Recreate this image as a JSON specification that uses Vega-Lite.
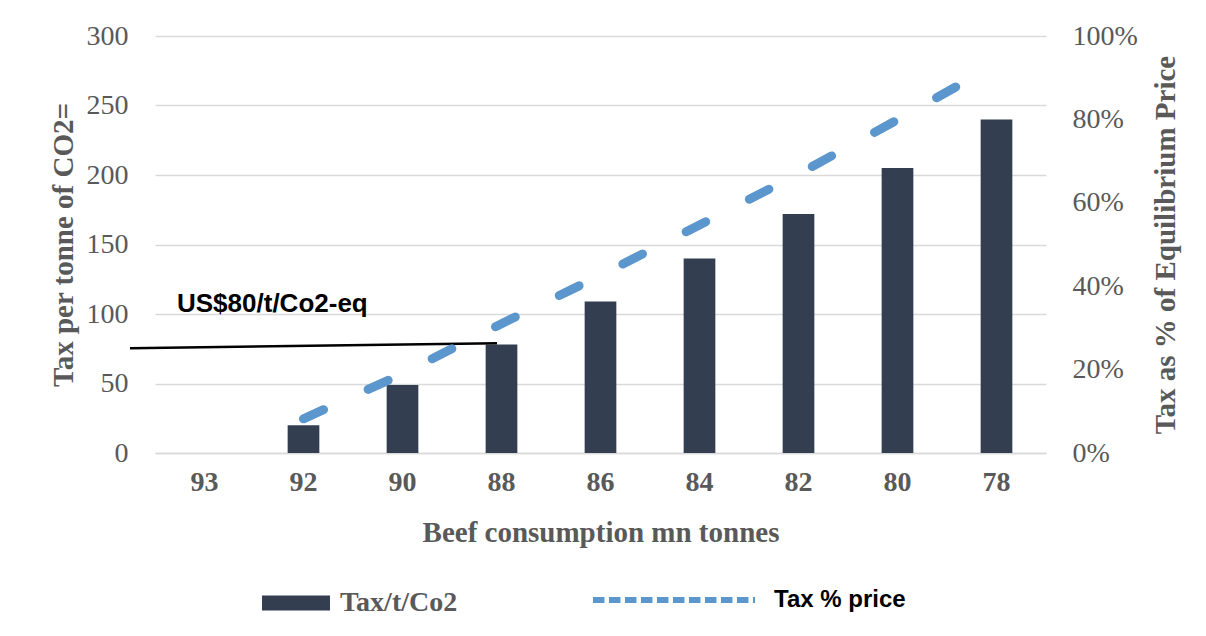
{
  "$schema": "https://vega.github.io/schema/vega-lite/v6.json",
  "width": 891,
  "height": 417,
  "autosize": {"type": "none"},
  "padding": {"left": 155, "top": 36, "right": 160, "bottom": 183},
  "background": "white",
  "config": {
    "view": {"stroke": null},
    "legend": {"padding": 0, "titlePadding": 0}
  },
  "datasets": {
    "tax": [
      {"beef": "93", "tax": 0},
      {"beef": "92", "tax": 20},
      {"beef": "90", "tax": 49},
      {"beef": "88", "tax": 78},
      {"beef": "86", "tax": 109},
      {"beef": "84", "tax": 140},
      {"beef": "82", "tax": 172},
      {"beef": "80", "tax": 205},
      {"beef": "78", "tax": 240}
    ],
    "share": [
      {"beef": "92", "pct": 0.082},
      {"beef": "90", "pct": 0.19},
      {"beef": "88", "pct": 0.31},
      {"beef": "86", "pct": 0.426},
      {"beef": "84", "pct": 0.547},
      {"beef": "82", "pct": 0.669},
      {"beef": "80", "pct": 0.799},
      {"beef": "78", "pct": 0.933}
    ],
    "note": [
      {"label": "US$80/t/Co2-eq", "from": "93", "to": "88", "start": 75.3, "end": 79, "level": 100}
    ]
  },
  "layer": [
    {
      "layer": [
        {
          "data": {"name": "tax"},
          "mark": {"type": "bar", "color": "#333F50"},
          "encoding": {
            "x": {
              "field": "beef", "type": "ordinal", "sort": null,
              "scale": {"domain": ["93", "92", "90", "88", "86", "84", "82", "80", "78"], "paddingInner": 0.68, "paddingOuter": 0.34},
              "axis": {
                "title": "Beef consumption mn tonnes",
                "labelAngle": 0,
                "labelFont": "Liberation Serif", "labelFontWeight": "bold", "labelFontSize": 28, "labelColor": "#595959",
                "labelPadding": 15,
                "ticks": false,
                "domain": true, "domainColor": "#D9D9D9", "domainWidth": 1.5,
                "grid": false,
                "titleFont": "Liberation Serif", "titleFontWeight": "bold", "titleFontSize": 29, "titleColor": "#595959",
                "titlePadding": 22
              }
            },
            "y": {
              "field": "tax", "type": "quantitative",
              "scale": {"domain": [0, 300]},
              "axis": {
                "title": "Tax per tonne of CO2=",
                "values": [0, 50, 100, 150, 200, 250, 300],
                "grid": true, "gridColor": "#D9D9D9", "gridWidth": 1.5,
                "domain": false, "ticks": false,
                "labelFont": "Liberation Serif", "labelFontSize": 28, "labelColor": "#595959",
                "labelPadding": 27,
                "titleFont": "Liberation Serif", "titleFontWeight": "bold", "titleFontSize": 29, "titleColor": "#595959",
                "titlePadding": 8
              }
            },
            "fill": {
              "datum": "Tax/t/Co2", "type": "nominal",
              "scale": {"range": ["#333F50"]},
              "legend": {
                "title": null, "orient": "none", "legendX": 107, "legendY": 533,
                "symbolType": "M-1,-0.22H1V0.22H-1Z", "symbolSize": 4624, "symbolStrokeWidth": 0,
                "labelFont": "Liberation Serif", "labelFontWeight": "bold", "labelFontSize": 28, "labelColor": "#595959",
                "labelOffset": 10
              }
            }
          }
        },
        {
          "data": {"name": "note"},
          "mark": {"type": "rule", "color": "black", "strokeWidth": 2.5, "xOffset": -74.5, "x2Offset": -4.5},
          "encoding": {
            "x": {"field": "from", "type": "ordinal"},
            "x2": {"field": "to"},
            "y": {"field": "start", "type": "quantitative"},
            "y2": {"field": "end"}
          }
        },
        {
          "data": {"name": "note"},
          "mark": {"type": "text", "font": "Liberation Sans", "fontWeight": "bold", "fontSize": 26, "color": "black", "align": "left", "baseline": "alphabetic", "xOffset": -27.5, "dy": -2},
          "encoding": {
            "x": {"field": "from", "type": "ordinal"},
            "y": {"field": "level", "type": "quantitative"},
            "text": {"field": "label"}
          }
        }
      ]
    },
    {
      "data": {"name": "share"},
      "mark": {"type": "line", "strokeWidth": 9, "strokeDash": [22, 49], "strokeCap": "round"},
      "encoding": {
        "x": {
          "field": "beef", "type": "ordinal", "sort": null,
          "scale": {"domain": ["93", "92", "90", "88", "86", "84", "82", "80", "78"], "paddingInner": 0.68, "paddingOuter": 0.34},
          "axis": null
        },
        "y": {
          "field": "pct", "type": "quantitative",
          "scale": {"domain": [0, 1]},
          "axis": {
            "orient": "right",
            "title": "Tax as % of Equilibrium Price",
            "format": ".0%",
            "values": [0, 0.2, 0.4, 0.6, 0.8, 1],
            "grid": false, "domain": false, "ticks": false,
            "labelFont": "Liberation Serif", "labelFontSize": 28, "labelColor": "#595959",
            "labelPadding": 26,
            "titleFont": "Liberation Serif", "titleFontWeight": "bold", "titleFontSize": 29, "titleColor": "#595959",
            "titleAngle": 270, "titleBaseline": "top",
            "titlePadding": 14
          }
        },
        "stroke": {
          "datum": "Tax % price", "type": "nominal",
          "scale": {"range": ["#5B96CD"]},
          "legend": {
            "title": null, "orient": "none", "legendX": 435, "legendY": 480,
            "symbolType": "stroke", "symbolSize": 26244, "symbolStrokeWidth": 6, "symbolDash": [11.5, 4.5],
            "labelFont": "Liberation Sans", "labelFontWeight": "bold", "labelFontSize": 24, "labelColor": "black",
            "labelOffset": 16,
            "encode": {"symbols": {"update": {"stroke": {"value": "#3D7DC0"}}}}
          }
        }
      }
    }
  ],
  "resolve": {"scale": {"x": "independent", "y": "independent"}}
}
